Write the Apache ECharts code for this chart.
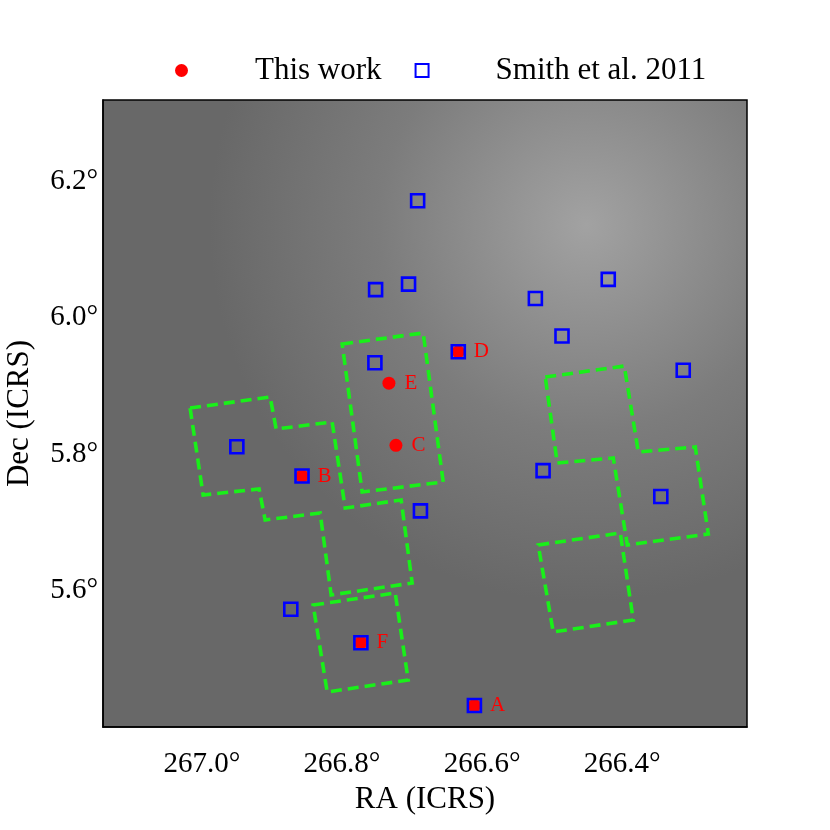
<!doctype html>
<html>
<head>
    <meta charset="UTF-8">
    <title>RA / Dec</title>
    <script src="https://cdn.jsdelivr.net/npm/echarts@6/dist/echarts.min.js"></script>
    <style>
        html, body { margin: 0; padding: 0; background: #fff; }
        #main { width: 830px; height: 830px; }
    </style>
</head>
<body>
<div id="main"></div>
<script type="text/javascript">
    // points (RA, Dec in degrees)
    var workNames = ['A', 'B', 'C', 'D', 'E', 'F'];
    var workRa = [266.611, 266.857, 266.723, 266.634, 266.733, 266.773];
    var workDec = [5.432, 5.768, 5.813, 5.950, 5.904, 5.524];

    var smithRa = [266.692, 266.752, 266.705, 266.753, 266.950, 266.857, 266.688, 266.873, 266.773,
        266.513, 266.345, 266.611, 266.420, 266.524, 266.486, 266.634, 266.313];
    var smithDec = [6.171, 6.041, 6.049, 5.934, 5.811, 5.768, 5.717, 5.573, 5.524,
        5.776, 5.738, 5.432, 6.056, 6.028, 5.973, 5.950, 5.923];

    // field outlines (RA, Dec corners)
    var fieldLeft = [[267.0167, 5.8676], [266.9025, 5.8838], [266.8939, 5.8369], [266.8140, 5.8472],
        [266.7954, 5.7212], [266.7155, 5.7330], [266.6998, 5.6114], [266.8154, 5.5939],
        [266.8311, 5.7139], [266.9096, 5.7037], [266.9182, 5.7491], [266.9981, 5.7403]];
    var fieldF = [[266.8411, 5.5792], [266.7240, 5.5968], [266.7055, 5.4694], [266.8211, 5.4519]];
    var fieldCenter = [[266.7997, 5.9614], [266.6841, 5.9775], [266.6555, 5.7593], [266.7712, 5.7447]];
    var fieldRightUpper = [[266.5099, 5.9130], [266.3971, 5.9291], [266.3771, 5.8032], [266.2958, 5.8105],
        [266.2772, 5.6832], [266.3928, 5.6671], [266.4128, 5.7944], [266.4928, 5.7871]];
    var fieldRightLower = [[266.5199, 5.6671], [266.4028, 5.6846], [266.3843, 5.5573], [266.4985, 5.5397]];
    var fields = [fieldLeft, fieldF, fieldCenter, fieldRightUpper, fieldRightLower];

    var raTicks = [266.4, 266.6, 266.8, 267.0];
    var decTicks = [5.6, 5.8, 6.0, 6.2];

    var serif = 'Liberation Serif';

    var workData = [];
    for (var i = 0; i < workRa.length; i++) {
        workData.push([workRa[i], workDec[i], workNames[i]]);
    }
    var smithData = [];
    for (var j = 0; j < smithRa.length; j++) {
        smithData.push([smithRa[j], smithDec[j]]);
    }
    var fieldData = fields.map(function (f, k) {
        return [f[0][0], f[0][1], k];
    });

    var myChart = echarts.init(document.getElementById('main'));
    var option = {
        backgroundColor: '#ffffff',
        animation: false,
        legend: {
            top: 50,
            left: 170,
            itemWidth: 13,
            itemHeight: 13,
            itemGap: 33,
            textStyle: {
                fontFamily: serif,
                fontSize: 31,
                color: '#000',
                padding: [0, 0, 0, 62]
            },
            data: ['This work', 'Smith et al. 2011']
        },
        grid: {
            left: 103,
            right: 83,
            top: 100,
            bottom: 103,
            outerBoundsMode: 'none',
            show: true,
            borderColor: '#000',
            borderWidth: 1.5,
            backgroundColor: new echarts.graphic.RadialGradient(0.75, 0.2, 0.6, [
                {offset: 0, color: '#a2a2a2'},
                {offset: 0.55, color: '#7c7c7c'},
                {offset: 1, color: '#686868'}
            ])
        },
        xAxis: {
            type: 'value',
            inverse: true,
            min: 266.222,
            max: 267.141,
            name: 'RA (ICRS)',
            nameLocation: 'middle',
            nameGap: 54,
            nameTextStyle: {fontFamily: serif, fontSize: 31, color: '#000'},
            axisLine: {lineStyle: {color: '#000', width: 1.5}},
            axisTick: {show: false},
            splitLine: {show: false},
            axisLabel: {
                customValues: raTicks,
                margin: 23,
                fontFamily: serif,
                fontSize: 29,
                color: '#000',
                formatter: function (v) { return v.toFixed(1) + '°'; }
            }
        },
        yAxis: {
            type: 'value',
            min: 5.4006,
            max: 6.3186,
            name: 'Dec (ICRS)',
            nameLocation: 'middle',
            nameGap: 68,
            nameTextStyle: {fontFamily: serif, fontSize: 31, color: '#000'},
            axisLine: {lineStyle: {color: '#000', width: 1.5}},
            axisTick: {show: false},
            splitLine: {show: false},
            axisLabel: {
                customValues: decTicks,
                margin: 5,
                fontFamily: serif,
                fontSize: 29,
                color: '#000',
                formatter: function (v) { return v.toFixed(1) + '°'; }
            }
        },
        series: [{
            name: 'fields',
            type: 'custom',
            clip: true,
            silent: true,
            data: fieldData,
            encode: {x: 0, y: 1},
            renderItem: function (params, api) {
                var pts = fields[params.dataIndex].map(function (p) {
                    return api.coord(p);
                });
                return {
                    type: 'polygon',
                    shape: {points: pts},
                    style: {
                        fill: 'none',
                        stroke: '#19f019',
                        lineWidth: 3.6,
                        lineDash: [11, 6]
                    }
                };
            }
        }, {
            name: 'This work',
            type: 'scatter',
            symbol: 'circle',
            symbolSize: 13,
            itemStyle: {color: '#ff0000', opacity: 1},
            label: {
                show: true,
                position: 'right',
                distance: 9,
                formatter: function (p) { return p.value[2]; },
                fontFamily: serif,
                fontSize: 21,
                color: '#ff0000'
            },
            data: workData
        }, {
            name: 'Smith et al. 2011',
            type: 'scatter',
            symbol: 'rect',
            symbolSize: 13,
            itemStyle: {
                color: 'rgba(0,0,0,0)',
                borderColor: '#0000ff',
                borderWidth: 2.6,
                opacity: 1
            },
            data: smithData
        }]
    };
    myChart.setOption(option);
</script>
</body>
</html>
